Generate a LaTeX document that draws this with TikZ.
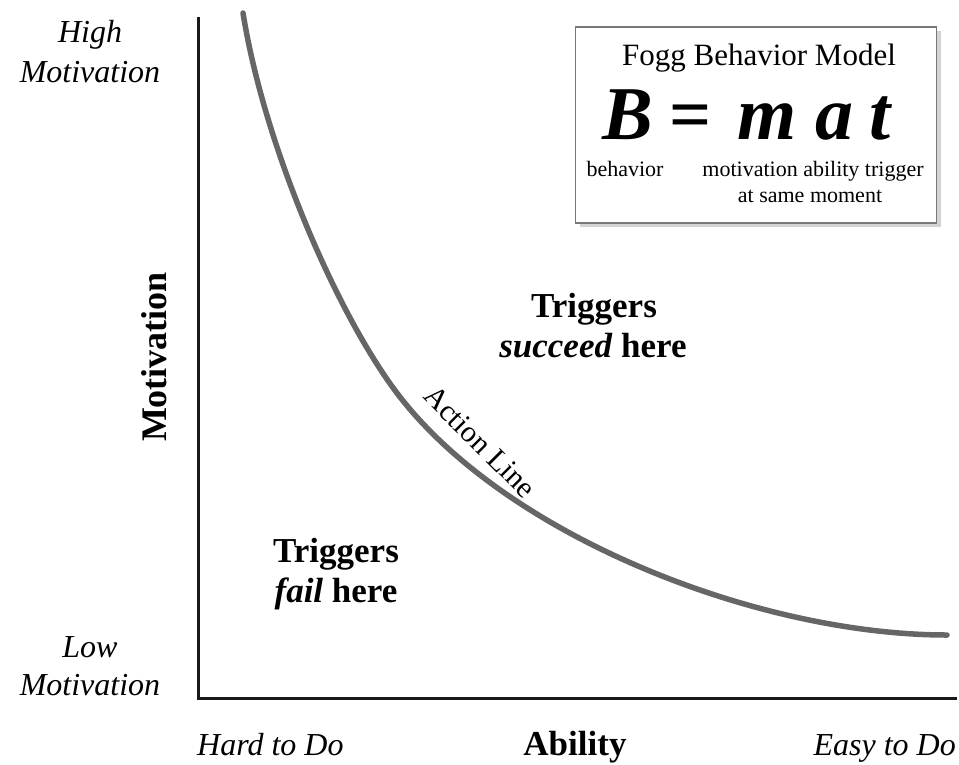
\documentclass[tikz,border=0pt]{standalone}
\usepackage{fontspec}
\setmainfont{Liberation Serif}
\usetikzlibrary{shadows}
\definecolor{curvegray}{RGB}{102,102,102}
\definecolor{boxgray}{RGB}{120,120,120}
\newcommand{\fsz}[1]{\fontsize{#1}{#1}\selectfont}
\tikzset{
  axisline/.style={line width=3pt, draw=black!90},
  actionline/.style={line width=5.5pt, draw=curvegray, line cap=round},
  lbl/.style={inner sep=0pt, anchor=base},
  endlabel/.style={lbl, font=\fsz{32}\itshape},
  boldlabel/.style={lbl, font=\fsz{35}\bfseries},
  modelbox/.style={draw=boxgray, line width=1.5pt, fill=white, minimum width=361pt, minimum height=196pt, inner sep=0pt,
    drop shadow={shadow xshift=4pt, shadow yshift=-4pt, opacity=0.35, fill=gray}},
  formula/.style={lbl, font=\fsz{76}\bfseries\itshape},
  small/.style={lbl, font=\fsz{22}},
}
\begin{document}
\begin{tikzpicture}[x=1pt, y=-1pt]
\useasboundingbox (0,0) rectangle (959,764);
% axes
\coordinate (top) at (198,17);
\coordinate (origin) at (198,698);
\coordinate (right) at (957,698);
\draw[axisline] (top) -- (origin) -- (right);
% action line
\coordinate (c0) at (243,13);
\coordinate (c1) at (400,397);
\coordinate (c2) at (947,635);
\draw[actionline] (c0) .. controls (265,150) and (340,320) .. (c1)
                        .. controls (510,538) and (760,635) .. (c2);
\node[inner sep=0pt, rotate=-45, font=\fsz{30}] (action) at (480,442) {Action Line};
% axis labels
\node[endlabel] (high1) at (90,42) {High};
\node[endlabel] (high2) at (90,82) {Motivation};
\node[endlabel] (low1) at (90,657) {Low};
\node[endlabel] (low2) at (90,695) {Motivation};
\node[lbl, rotate=90, font=\fsz{36}\bfseries] (motiv) at (166,357) {Motivation};
\node[endlabel, anchor=base west] (hard) at (197,755) {Hard to Do};
\node[boldlabel] (ability) at (575,755) {Ability};
\node[endlabel, anchor=base east] (easy) at (956,755) {Easy to Do};
% region labels
\node[boldlabel] (succ1) at (594,317) {Triggers};
\node[boldlabel] (succ2) at (593,357) {\textit{succeed} here};
\node[boldlabel] (fail1) at (336,562) {Triggers};
\node[boldlabel] (fail2) at (336,602) {\textit{fail} here};
% model box
\node[modelbox] (box) at (756,125) {};
\node[lbl, font=\fsz{31}] (title) at (759,65) {Fogg Behavior Model};
\node[formula] (B) at (628,139) {B};
\node[lbl, font=\fsz{74}\bfseries] (eq) at (691,139) {=};
\node[formula] (m) at (767,139) {m};
\node[formula] (a) at (834,139) {a};
\node[formula] (t) at (880,139) {t};
\node[small] (beh) at (625,176) {behavior};
\node[small] (mat) at (813,176) {motivation ability trigger};
\node[small] (same) at (810,202) {at same moment};
\end{tikzpicture}
\end{document}
